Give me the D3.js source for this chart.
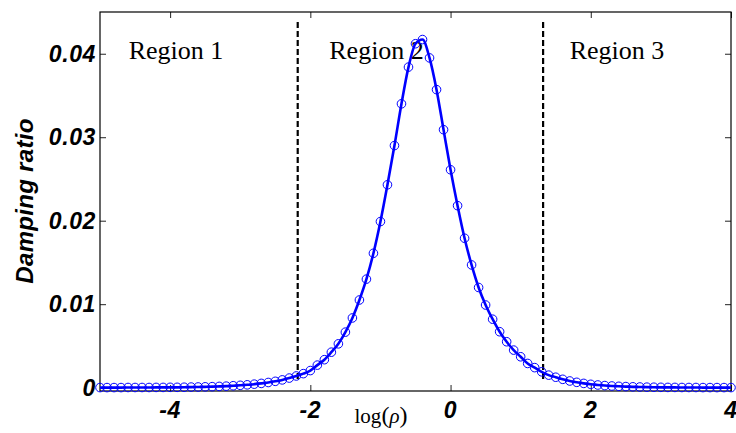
<!DOCTYPE html>
<html>
<head>
<meta charset="utf-8">
<script src="https://cdn.jsdelivr.net/npm/d3@7"></script>
<style>
body{margin:0;background:#fff;}
svg{display:block;}
.tick_lbl{font-family:"Liberation Sans",Arial,sans-serif;font-weight:bold;font-style:italic;font-size:23px;letter-spacing:0.6px;}
.reg_lbl{font-family:"Liberation Serif","Times New Roman",serif;font-size:26px;}
</style>
</head>
<body>
<div id="chart"></div>
<script>
var log_rho = [-5.0,-4.9,-4.8,-4.7,-4.6,-4.5,-4.4,-4.3,-4.2,-4.1,
  -4.0,-3.9,-3.8,-3.7,-3.6,-3.5,-3.4,-3.3,-3.2,-3.1,
  -3.0,-2.9,-2.8,-2.7,-2.6,-2.5,-2.4,-2.3,-2.2,-2.1,
  -2.0,-1.9,-1.8,-1.7,-1.6,-1.5,-1.4,-1.3,-1.2,-1.1,
  -1.0,-0.9,-0.8,-0.7,-0.6,-0.5,-0.4,-0.3,-0.2,-0.1,
  0.0,0.1,0.2,0.3,0.4,0.5,0.6,0.7,0.8,0.9,
  1.0,1.1,1.2,1.3,1.4,1.5,1.6,1.7,1.8,1.9,
  2.0,2.1,2.2,2.3,2.4,2.5,2.6,2.7,2.8,2.9,
  3.0,3.1,3.2,3.3,3.4,3.5,3.6,3.7,3.8,3.9,4.0];

var damping = [0.00001,0.00001,0.00001,0.00001,0.00002,0.00002,0.00002,0.00002,0.00003,0.00003,
  0.00004,0.00004,0.00005,0.00007,0.00008,0.00010,0.00012,0.00015,0.00018,0.00023,
  0.00028,0.00034,0.00042,0.00051,0.00062,0.00076,0.00093,0.00115,0.00140,0.00168,
  0.00205,0.00270,0.00335,0.00425,0.00525,0.00665,0.00835,0.0105,0.0130,0.0161,
  0.0199,0.0243,0.0290,0.0340,0.0384,0.0412,0.0417,0.0395,0.0357,0.0309,
  0.0261,0.0218,0.0179,0.0147,0.0120,0.0099,0.0082,0.0067,0.0055,0.0045,
  0.0037,0.0029,0.0024,0.0019,0.00150,0.00125,0.00100,0.00080,0.00064,0.00051,
  0.00040,0.00032,0.00025,0.00020,0.00016,0.00013,0.00010,0.00008,0.00006,0.00005,
  0.00004,0.00003,0.00003,0.00002,0.00002,0.00002,0.00001,0.00001,0.00001,0.00001,0.00001];

var x_ticks = [-4,-2,0,2,4];
var y_ticks = [0,0.01,0.02,0.03,0.04];
var y_tick_labels = ["0","0.01","0.02","0.03","0.04"];

var region_bounds = [-2.18, 1.32];
var region_names = ["Region 1","Region 2","Region 3"];
var region_x = [-4.59, -1.73, 1.70];
var region_y = 0.0394;

var width = 736, height = 433;
var m_left = 100, m_right = 731, m_top = 12, m_bottom = 391;

var x = d3.scaleLinear().domain([-5,4]).range([m_left,m_right]);
var y = d3.scaleLinear().domain([-0.0004,0.045]).range([m_bottom,m_top]);

var svg = d3.select("#chart").append("svg")
    .attr("width",width)
    .attr("height",height);

var pts = log_rho.map(function(v,i){ return [v, damping[i]]; });

// axes box, MATLAB style ticks pointing inward
function no_domain(g){ g.select(".domain").remove(); }
svg.append("g")
    .attr("transform","translate(0,"+m_bottom+")")
    .call(d3.axisBottom(x).tickValues(x_ticks).tickSizeInner(-6).tickSizeOuter(0).tickFormat(""))
    .call(no_domain);
svg.append("g")
    .attr("transform","translate(0,"+m_top+")")
    .call(d3.axisTop(x).tickValues(x_ticks).tickSizeInner(-6).tickSizeOuter(0).tickFormat(""))
    .call(no_domain);
svg.append("g")
    .attr("transform","translate("+m_left+",0)")
    .call(d3.axisLeft(y).tickValues(y_ticks).tickSizeInner(-6).tickSizeOuter(0).tickFormat(""))
    .call(no_domain);
svg.append("g")
    .attr("transform","translate("+m_right+",0)")
    .call(d3.axisRight(y).tickValues(y_ticks).tickSizeInner(-6).tickSizeOuter(0).tickFormat(""))
    .call(no_domain);
svg.selectAll(".tick line").attr("stroke","#222").attr("stroke-width",1);

svg.append("rect")
    .attr("x",m_left).attr("y",m_top)
    .attr("width",m_right-m_left).attr("height",m_bottom-m_top)
    .attr("fill","none")
    .attr("stroke","#000")
    .attr("stroke-width",1.2);

svg.selectAll(".xlbl").data(x_ticks).join("text")
    .attr("class","tick_lbl")
    .attr("x",function(d){ return x(d); })
    .attr("y",418)
    .attr("text-anchor","middle")
    .text(function(d){ return d; });

svg.selectAll(".ylbl").data(y_ticks).join("text")
    .attr("class","tick_lbl")
    .attr("x",96)
    .attr("y",function(d){ return y(d)+8; })
    .attr("text-anchor","end")
    .text(function(d,i){ return y_tick_labels[i]; });

svg.append("text")
    .attr("class","tick_lbl")
    .attr("transform","translate(33,201) rotate(-90)")
    .attr("text-anchor","middle")
    .style("font-size","24px")
    .style("letter-spacing","0.3px")
    .text("Damping ratio");

var xl = svg.append("text")
    .attr("x",381).attr("y",423)
    .attr("text-anchor","middle")
    .style("font-family","'Liberation Serif','Times New Roman',serif")
    .style("font-size","21px");
xl.append("tspan").text("log");
xl.append("tspan").style("font-size","24px").text("(");
xl.append("tspan").style("font-style","italic").text("\u03c1");
xl.append("tspan").style("font-size","24px").text(")");

// region boundaries
svg.selectAll(".bound").data(region_bounds).join("line")
    .attr("x1",function(d){ return x(d); })
    .attr("x2",function(d){ return x(d); })
    .attr("y1",y(0.0438))
    .attr("y2",y(0.0007))
    .attr("stroke","#000")
    .attr("stroke-width",2.2)
    .attr("stroke-dasharray","6,3");

svg.selectAll(".reg").data(region_names).join("text")
    .attr("class","reg_lbl")
    .attr("x",function(d,i){ return x(region_x[i]); })
    .attr("y",y(region_y))
    .text(function(d){ return d; });

svg.selectAll(".mk").data(pts).join("circle")
    .attr("cx",function(d){ return x(d[0]); })
    .attr("cy",function(d){ return y(d[1]); })
    .attr("r",4.3)
    .attr("fill","none")
    .attr("stroke","#0000ff")
    .attr("stroke-width",1);

svg.append("path")
    .datum(pts)
    .attr("fill","none")
    .attr("stroke","#0000ff")
    .attr("stroke-width",2.6)
    .attr("d",d3.line()
        .x(function(d){ return x(d[0]); })
        .y(function(d){ return y(d[1]); })
        .curve(d3.curveMonotoneX));
</script>
</body>
</html>
